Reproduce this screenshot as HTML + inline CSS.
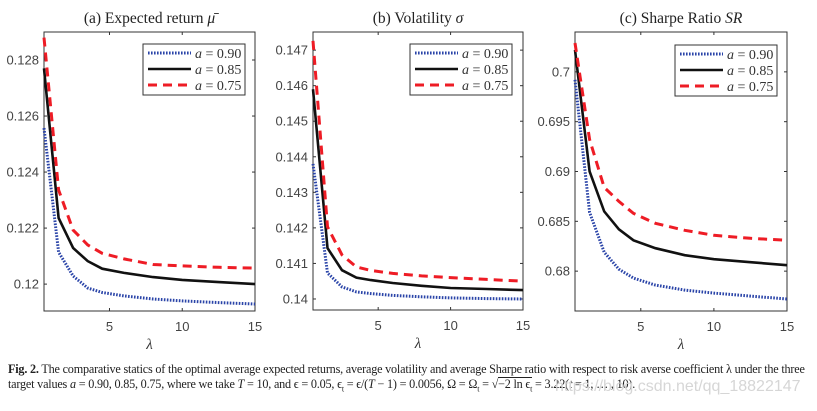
<!DOCTYPE html>
<html><head><meta charset="utf-8"><style>
body{margin:0;background:#fff;width:817px;height:411px;overflow:hidden;font-family:"Liberation Sans",sans-serif}
svg{position:absolute;left:0;top:0}
.cap{position:absolute;left:8px;top:362px;width:820px;white-space:nowrap;font-family:"Liberation Serif",serif;font-size:12.2px;line-height:15px;color:#222;letter-spacing:-0.2px}
.ov{display:inline-block;border-top:1px solid #222;line-height:12px}
.wm{position:absolute;left:555px;top:378px;font-family:"Liberation Sans",sans-serif;font-size:16px;color:#d6d6d6}
</style></head><body>
<svg id="chart" width="817" height="411"></svg>
<div class="cap"><b>Fig. 2.</b> The comparative statics of the optimal average expected returns, average volatility and average Sharpe ratio with respect to risk averse coefficient λ under the three<br>target values <i>a</i> = 0.90, 0.85, 0.75, where we take <i>T</i> = 10, and ϵ = 0.05, ϵ<sub style="font-size:8px">t</sub> = ϵ/(<i>T</i> − 1) = 0.0056, Ω = Ω<sub style="font-size:8px">t</sub> = √<span class="ov">−2 ln ϵ<sub style="font-size:8px">t</sub></span> = 3.22(<i>t</i> = 1, … , 10).</div>
<div class="wm">https://blog.csdn.net/qq_18822147</div>
<script>
const lambdas=[0.5,1.5,2.5,3.5,4.5,6,8,10,12.5,15];
const xTicks=[5,10,15];
const seriesLabels=["a = 0.90","a = 0.85","a = 0.75"];
const retBlue=[0.12557,0.12114,0.12029,0.11986,0.1197,0.11958,0.11947,0.1194,0.11934,0.11929];
const retBlack=[0.1277,0.12236,0.12129,0.12082,0.12055,0.1204,0.12025,0.12015,0.12007,0.1200];
const retRed=[0.1288,0.12336,0.12193,0.1214,0.1211,0.1209,0.1207,0.12065,0.1206,0.12057];
const volBlue=[0.1438,0.14073,0.14034,0.1402,0.14015,0.1401,0.14006,0.14003,0.14001,0.1400];
const volBlack=[0.1459,0.14143,0.14081,0.1406,0.14053,0.14045,0.14037,0.14031,0.14028,0.14025];
const volRed=[0.14726,0.14203,0.14124,0.1409,0.1408,0.14072,0.14065,0.1406,0.14055,0.1405];
const srBlue=[0.6992,0.6859,0.6819,0.6802,0.6793,0.6786,0.6781,0.6778,0.6775,0.6772];
const srBlack=[0.7022,0.690,0.686,0.6842,0.6831,0.6823,0.6816,0.6812,0.6809,0.6806];
const srRed=[0.7029,0.6932,0.6884,0.687,0.6858,0.6848,0.6841,0.6836,0.6833,0.6831];
const retTicks=[0.12,0.122,0.124,0.126,0.128];
const retTickLabels=["0.12","0.122","0.124","0.126","0.128"];
const volTicks=[0.14,0.141,0.142,0.143,0.144,0.145,0.146,0.147];
const volTickLabels=["0.14","0.141","0.142","0.143","0.144","0.145","0.146","0.147"];
const srTicks=[0.68,0.685,0.69,0.695,0.7];
const srTickLabels=["0.68","0.685","0.69","0.695","0.7"];

const NS="http://www.w3.org/2000/svg";
const svg=document.getElementById('chart');
function mk(tag,attrs,parent){const e=document.createElementNS(NS,tag);for(const k in attrs)e.setAttribute(k,attrs[k]);(parent||svg).appendChild(e);return e;}
const styles=[{stroke:"#2a44a8",w:3,dash:"1.6 1.4"},{stroke:"#111",w:2.6,dash:""},{stroke:"#ee1c25",w:3,dash:"9 6"}];

function panel(p){
  const g=mk('g',{});
  
  
  const xs=v=>p.x0+(v-0.5)/(15-0.5)*(p.x1-p.x0);
  const ys=v=>p.y1-(v-p.ymin)/(p.ymax-p.ymin)*(p.y1-p.y0);
  const box=mk('rect',{x:p.x0,y:p.y0,width:p.x1-p.x0,height:p.y1-p.y0,fill:"none",stroke:"#333","stroke-width":1},g);
  
  
  p.yt.forEach((t,i)=>{
    const y=ys(t);
    mk('line',{x1:p.x0,x2:p.x0+3,y1:y,y2:y,stroke:"#333"},g);
    mk('line',{x1:p.x1,x2:p.x1-3,y1:y,y2:y,stroke:"#333"},g);
    const tx=mk('text',{x:p.x0-5,y:y+4.5,"text-anchor":"end","font-size":13,fill:"#444"},g);
    tx.textContent=p.yl[i];
    
    
  });
  xTicks.forEach(t=>{
    const x=xs(t);
    mk('line',{x1:x,x2:x,y1:p.y1,y2:p.y1-3,stroke:"#333"},g);
    mk('line',{x1:x,x2:x,y1:p.y0,y2:p.y0+3,stroke:"#333"},g);
    const tx=mk('text',{x:x,y:p.y1+20,"text-anchor":"middle","font-size":13,fill:"#444"},g);
    tx.textContent=String(t);
    
    
  });
  const xl=mk('text',{x:(p.x0+p.x1)/2,y:p.y1+38,"text-anchor":"middle","font-size":15,"font-family":"Liberation Serif, serif","font-style":"italic",fill:"#333"},g);
  xl.textContent="λ";
  
  
  const ti=mk('text',{x:(p.x0+p.x1)/2,y:p.y0-9,"text-anchor":"middle","font-size":15.5,"font-family":"Liberation Serif, serif",fill:"#222"},g);
  ti.innerHTML=p.title;
  
  
  p.series.forEach((s,i)=>{
    const d=s.map((v,j)=>(j?'L':'M')+xs(lambdas[j]).toFixed(1)+','+ys(v).toFixed(1)).join(' ');
    const path=mk('path',{d:d,fill:"none",stroke:styles[i].stroke,"stroke-width":styles[i].w,"stroke-dasharray":styles[i].dash},g);
    
    
  });
  const lg=mk('g',{},g);
  
  
  mk('rect',{x:p.lx,y:p.ly,width:102,height:51,fill:"#fff",stroke:"#333"},lg);
  seriesLabels.forEach((lab,i)=>{
    const y=p.ly+9+i*16;
    mk('line',{x1:p.lx+5,x2:p.lx+48,y1:y,y2:y,stroke:styles[i].stroke,"stroke-width":styles[i].w,"stroke-dasharray":styles[i].dash},lg);
    const t=mk('text',{x:p.lx+52,y:y+5,"font-size":14,"font-family":"Liberation Serif, serif",fill:"#333"},lg);
    t.innerHTML='<tspan font-style="italic">a</tspan> = '+lab.slice(4);
    
    
  });
}
panel({name:'panel-expected-return',x0:44,x1:255,y0:32,y1:311,ymin:0.11904,ymax:0.129,yt:retTicks,yl:retTickLabels,
  title:'(a) Expected return <tspan font-style="italic">μ̄</tspan>',series:[retBlue,retBlack,retRed],lx:143,ly:44});
panel({name:'panel-volatility',x0:313,x1:523,y0:32,y1:310,ymin:0.13969,ymax:0.14751,yt:volTicks,yl:volTickLabels,
  title:'(b) Volatility <tspan font-style="italic">σ</tspan>',series:[volBlue,volBlack,volRed],lx:410,ly:44});
panel({name:'panel-sharpe-ratio',x0:575,x1:787,y0:32,y1:311,ymin:0.676,ymax:0.704,yt:srTicks,yl:srTickLabels,
  title:'(c) Sharpe Ratio <tspan font-style="italic">SR</tspan>',series:[srBlue,srBlack,srRed],lx:675,ly:45});
</script>
</body></html>
